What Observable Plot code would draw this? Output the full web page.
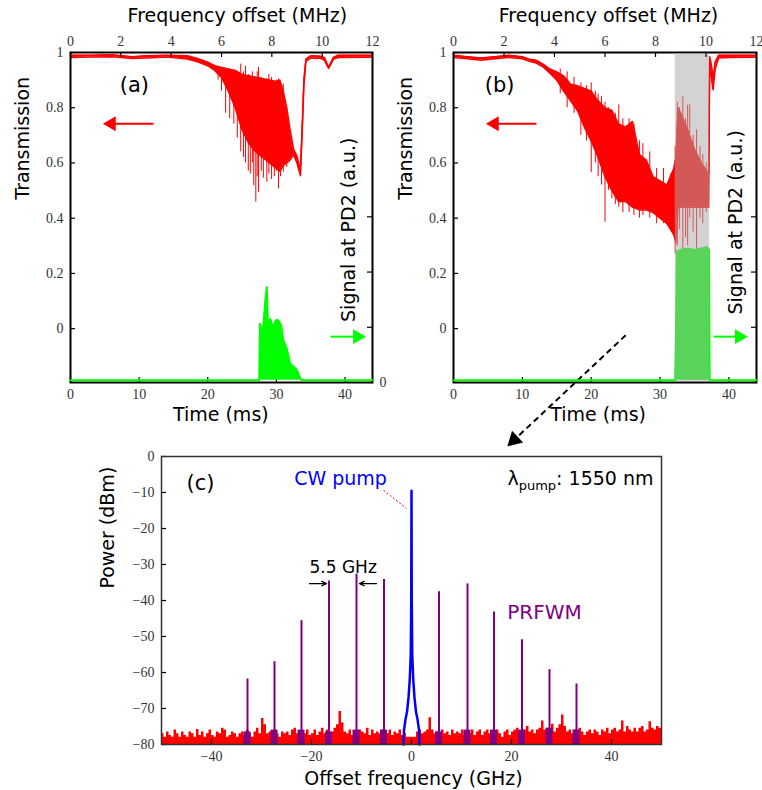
<!DOCTYPE html>
<html><head><meta charset="utf-8">
<script src="https://cdn.jsdelivr.net/npm/d3@7"></script>
<script src="https://cdn.jsdelivr.net/npm/@observablehq/plot@0.6"></script>
<style>
body{margin:0;background:#fff;}
#fig{position:relative;width:762px;height:790px;overflow:hidden;background:#fff;}
</style></head><body><div id="fig"></div>
<script>
// ---------- tick values ----------
const timeTicks = [0, 10, 20, 30, 40];
const freqTicks = [0, 2, 4, 6, 8, 10, 12];
const transTicks = [0, 0.2, 0.4, 0.6, 0.8, 1];
const signalTicks = [0, 0.2, 0.4, 0.6];
const specXTicks = [-40, -20, 0, 20, 40];
const specYTicks = [0, -10, -20, -30, -40, -50, -60, -70, -80];

// ---------- panel (a): transmission envelope (dense trace drawn as min/max band) ----------
const redA_t  = [0, 3, 6, 9, 11, 14, 17, 18.5, 20, 21, 22, 23, 24, 25, 26, 27, 28, 29, 30, 30.5, 31, 31.5, 32, 32.5, 33, 33.5, 33.8, 34, 34.3, 35, 36.5, 37, 37.6, 38.3, 39, 44];
const redA_hi = [0.99, 0.99, 0.992, 0.985, 0.988, 0.99, 0.988, 0.978, 0.965, 0.952, 0.946, 0.94, 0.935, 0.92, 0.915, 0.91, 0.905, 0.90, 0.895, 0.90, 0.86, 0.80, 0.72, 0.65, 0.625, 0.575, 0.76, 0.90, 0.976, 0.988, 0.986, 0.982, 0.946, 0.982, 0.99, 0.99];
const redA_lo = [0.982, 0.984, 0.985, 0.978, 0.98, 0.984, 0.976, 0.966, 0.952, 0.935, 0.91, 0.86, 0.80, 0.72, 0.67, 0.64, 0.62, 0.60, 0.58, 0.57, 0.59, 0.60, 0.61, 0.63, 0.60, 0.554, 0.74, 0.88, 0.968, 0.98, 0.978, 0.972, 0.942, 0.975, 0.982, 0.983];
const spikeA_t  = [21.5, 22.0, 22.6, 23.2, 23.8, 24.3, 24.8, 25.2, 25.5, 25.9, 26.2, 26.5, 26.7, 27.0, 27.2, 27.4, 27.8, 28.1, 28.6, 28.9, 29.3, 29.7, 30.0, 30.3, 30.6, 31.0, 31.5];
const spikeA_lo = [0.90, 0.86, 0.78, 0.76, 0.74, 0.69, 0.64, 0.62, 0.60, 0.57, 0.56, 0.60, 0.518, 0.458, 0.55, 0.494, 0.57, 0.545, 0.53, 0.56, 0.54, 0.55, 0.57, 0.506, 0.55, 0.566, 0.584];
const spikeA_hi = [0.95, 0.945, 0.94, 0.935, 0.935, 0.93, 0.958, 0.93, 0.95, 0.92, 0.915, 0.93, 0.91, 0.91, 0.93, 0.946, 0.91, 0.90, 0.905, 0.92, 0.91, 0.89, 0.90, 0.904, 0.89, 0.886, 0.80];
// signal at PD2 (a.u.), upper envelope
const greenA_t  = [0, 27.5, 27.6, 28.0, 28.4, 28.6, 28.8, 29.1, 29.5, 29.9, 30.3, 30.7, 31.0, 31.5, 32.0, 32.5, 33.0, 33.5, 33.7, 44];
const greenA_hi = [0.008, 0.008, 0.213, 0.177, 0.30, 0.346, 0.18, 0.23, 0.20, 0.225, 0.225, 0.207, 0.153, 0.123, 0.069, 0.057, 0.045, 0.014, 0.008, 0.008];

// ---------- panel (b) ----------
const redB_t  = [0, 2, 4, 6, 8, 10, 11, 12, 13, 14, 15, 16, 17, 18, 19, 20, 21, 22, 23, 24, 25, 26, 27, 28, 29, 30, 31, 32, 32.3, 32.6, 33, 34, 35, 36, 37.05, 37.2, 37.5, 37.7, 38.0, 38.5, 40, 44];
const redB_hi = [0.99, 0.985, 0.98, 0.985, 0.99, 0.985, 0.976, 0.972, 0.958, 0.94, 0.93, 0.915, 0.885, 0.88, 0.87, 0.86, 0.825, 0.80, 0.79, 0.74, 0.73, 0.75, 0.63, 0.61, 0.55, 0.535, 0.52, 0.58, 0.62, 0.80, 0.78, 0.72, 0.65, 0.60, 0.56, 0.985, 0.95, 0.90, 0.965, 0.99, 0.99, 0.99];
const redB_lo = [0.982, 0.977, 0.972, 0.977, 0.982, 0.977, 0.968, 0.962, 0.948, 0.925, 0.90, 0.86, 0.825, 0.79, 0.73, 0.68, 0.62, 0.55, 0.50, 0.46, 0.46, 0.44, 0.43, 0.43, 0.42, 0.40, 0.38, 0.34, 0.31, 0.44, 0.44, 0.44, 0.44, 0.44, 0.44, 0.96, 0.90, 0.865, 0.94, 0.98, 0.982, 0.983];
const spikeB_t  = [15.5, 16.5, 17.5, 18.5, 19.3, 20.0, 20.6, 21.0, 21.5, 22.0, 22.5, 23.0, 23.5, 24.0, 24.6, 25.5, 26.2, 27.0, 27.5, 28.5, 29.5, 30.5, 31.5, 32.2, 32.5, 32.8, 33.3, 33.7, 34.0, 34.3, 34.8, 35.3, 35.8, 36.2, 36.7];
const spikeB_lo = [0.85, 0.80, 0.78, 0.70, 0.68, 0.565, 0.60, 0.55, 0.52, 0.385, 0.50, 0.47, 0.45, 0.44, 0.42, 0.42, 0.41, 0.40, 0.41, 0.40, 0.38, 0.38, 0.36, 0.27, 0.30, 0.36, 0.28, 0.33, 0.30, 0.40, 0.35, 0.27, 0.40, 0.38, 0.42];
const spikeB_hi = [0.94, 0.93, 0.91, 0.89, 0.88, 0.89, 0.86, 0.85, 0.84, 0.82, 0.80, 0.79, 0.78, 0.81, 0.76, 0.76, 0.74, 0.68, 0.67, 0.64, 0.58, 0.58, 0.56, 0.66, 0.82, 0.80, 0.84, 0.76, 0.81, 0.81, 0.70, 0.72, 0.66, 0.63, 0.60];
const greenB_t  = [0, 32.2, 32.3, 32.45, 33, 34, 35, 36, 36.8, 37.1, 37.2, 44];
const greenB_hi = [0.008, 0.008, 0.155, 0.475, 0.48, 0.485, 0.48, 0.485, 0.49, 0.48, 0.008, 0.008];
const bandB = [32.2, 37.2];
const greenBase = 0.008;

// ---------- panel (c): optical spectrum ----------
const noiseStart = -50, noiseStep = 0.5;
const noiseP = [
 -77,-78,-76.5,-77.5,-78,-76,-77,-78,-76.5,-77.5,
 -78,-76.5,-77,-78,-75.8,-77.5,-76.5,-78,-77,-76,
 -77.5,-78,-76.5,-77,-75.5,-76,-78,-77.5,-76.5,-77,
 -78,-77,-76.5,-77.5,-76,-77,-78,-76.5,-75.5,-77,
 -72.8,-74.5,-77,-76.5,-77.5,-76,-77,-78,-76.5,-77,
 -76.5,-77.5,-76,-75.5,-77,-78,-76.5,-77,-76,-77.5,
 -77,-76,-77.5,-76.5,-75.5,-77,-76,-77.5,-76.5,-75.5,
 -74.5,-70.8,-74,-76.5,-77,-76,-77.5,-76.5,-77,-76,
 -76.5,-77,-75.5,-77.5,-76,-77,-76.5,-77,-76,-77.5,
 -77,-76,-77.5,-76.5,-77,-76,-77.5,-77,-78,-78,
 -78,-78,-76.5,-76,-77,-76.5,-76,-72.6,-76,-77,
 -76.5,-77.5,-76,-77,-76.5,-77.5,-76,-77,-76.5,-77,
 -76,-77.5,-76.5,-77,-76,-77.5,-76.5,-76,-77.5,-76.5,
 -76,-77,-77.5,-76.5,-76,-77,-78,-76.5,-76,-77.5,
 -76.5,-76,-75.5,-76.5,-77.5,-76,-75,-76.5,-76,-77,
 -76,-75.5,-73.5,-76,-75.5,-76.5,-74.4,-76.5,-75.5,-74.5,
 -71.8,-75,-76.5,-76,-77,-76,-76.5,-75.5,-76.5,-77.5,
 -76.5,-76,-77,-76,-76.5,-77.5,-76,-76.5,-75.5,-77,
 -76,-75.5,-76.5,-76,-73.5,-76.5,-75,-76,-76.5,-75.5,
 -76.5,-75.5,-75,-76.5,-76,-73.7,-75.5,-76,-75,-75.5,
 -76];
const peakF = [-32.8, -27.4, -22.0, -16.5, -11.0, -5.5, 5.5, 11.2, 16.5, 22.1, 27.6, 33.0];
const peakP = [-61.8, -57.0, -45.6, -34.6, -32.7, -34.2, -37.6, -35.4, -43.2, -50.9, -59.2, -63.2];
const peakBase = [-76.5, -76, -76, -76.5, -76, -76, -76.5, -76, -76, -76, -75.5, -76];
const pumpF = [-1.6, -1.5, -1.2, -0.9, -0.6, -0.35, -0.15, -0.05, 0, 0.05, 0.15, 0.35, 0.6, 0.9, 1.2, 1.5, 1.6];
const pumpP = [-80, -76, -73, -71, -67, -62, -55, -40, -9.5, -40, -55, -62, -67, -71, -73, -76, -80];

// ---------- build tables ----------
const zip3 = (t, hi, lo) => t.map((v, i) => ({t: v, hi: hi[i], lo: lo[i]}));
const redA = zip3(redA_t, redA_hi, redA_lo);
const redB = zip3(redB_t, redB_hi, redB_lo);
const spikesA = zip3(spikeA_t, spikeA_hi, spikeA_lo);
const spikesB = zip3(spikeB_t, spikeB_hi, spikeB_lo);
const greenA = greenA_t.map((t, i) => ({t, hi: greenA_hi[i]}));
const greenB = greenB_t.map((t, i) => ({t, hi: greenB_hi[i]}));
const noise = noiseP.map((p, i) => ({f: noiseStart + i * noiseStep, p}));
const peaks = peakF.map((f, i) => ({f, p: peakP[i], base: peakBase[i]}));
const pump = pumpF.map((f, i) => ({f, p: pumpP[i]}));

// ---------- styles ----------
const SANS = "'DejaVu Sans', sans-serif";
const SERIF = "'Liberation Serif', 'DejaVu Serif', serif";
const RED = "#ff0000", GREEN = "#00ff00", PURPLE = "#800080", BLUE = "#0000ff";
const TICK = 5;
const tickStyle = {fontFamily: SERIF, fontSize: 14, fill: "#333", tickSize: 0, tickPadding: 7, label: null};
const baseStyle = {background: "transparent", overflow: "visible", fontFamily: SANS};
const fig = document.getElementById("fig");
function place(svg, left, top) {
  svg.style.position = "absolute";
  svg.style.left = left + "px";
  svg.style.top = top + "px";
  svg.style.maxWidth = "none";
  fig.appendChild(svg);
}

function topPanel(cfg) {
  const H = 420, ML = 70, MT = 52, MB = 38;
  const dims = {width: cfg.width, height: H, marginLeft: ML, marginRight: cfg.marginRight, marginTop: MT, marginBottom: MB};
  const fw = cfg.width - ML - cfg.marginRight, fh = H - MT - MB;
  // transmission (left axis)
  const main = Plot.plot({
    ...dims, style: baseStyle,
    x: {domain: [0, 44]}, y: {domain: [-0.195, 1]},
    marks: [
      Plot.area(cfg.red, {x1: "t", y1: "lo", y2: "hi", fill: RED}),
      Plot.line(cfg.red, {x: "t", y: "hi", stroke: RED, strokeWidth: 1.5}),
      Plot.line(cfg.red, {x: "t", y: "lo", stroke: RED, strokeWidth: 1.5}),
      Plot.ruleX(cfg.spikes, {x: "t", y1: "lo", y2: "hi", stroke: RED, strokeWidth: 1}),
      Plot.axisX({anchor: "bottom", ticks: timeTicks, ...tickStyle}),
      Plot.axisY({anchor: "left", ticks: transTicks, tickFormat: d3.format("~g"), ...tickStyle}),
      Plot.ruleX(timeTicks, {x: d => d, insetTop: fh - TICK, stroke: "black", strokeWidth: 1.2}),
      Plot.ruleY(transTicks, {y: d => d, insetRight: fw - TICK, stroke: "black", strokeWidth: 1.2}),
      Plot.frame({stroke: "black", strokeWidth: 2}),
      Plot.text([cfg.tag], {x: "t", y: "v", text: "s", fontSize: 21, fill: "black"}),
      Plot.text([{v: 0.467, s: "Transmission"}], {y: "v", text: "s", frameAnchor: "left", lineAnchor: "middle", dx: -48, rotate: -90, fontSize: 19, fill: "black"}),
      Plot.text([cfg.timeLabel], {x: "t", text: "s", frameAnchor: "bottom", lineAnchor: "middle", dy: 32, fontSize: 19, fill: "black"}),
      Plot.link([cfg.redArrow], {x1: "x1", x2: "x2", y1: "y", y2: "y", stroke: RED, strokeWidth: 2}),
      Plot.dot([cfg.redArrow], {x: "x2", y: "y", symbol: "triangle", r: 5.5, fill: RED, stroke: "none", rotate: 270}),
      ...(cfg.extra || [])
    ]
  });
  // signal at PD2 (right axis)
  const sig = Plot.plot({
    ...dims, style: baseStyle,
    x: {domain: [0, 44], axis: null}, y: {domain: [0, 1.195]},
    marks: [
      Plot.area(cfg.green, {x1: "t", y1: greenBase, y2: "hi", fill: GREEN}),
      Plot.line(cfg.green, {x: "t", y: "hi", stroke: GREEN, strokeWidth: 2}),
      ...(cfg.band ? [Plot.rect([cfg.band], {x1: d => d[0], x2: d => d[1], fill: "#ababab", fillOpacity: 0.52, insetTop: 1, insetBottom: 1})] : []),
      Plot.axisY({anchor: "right", ticks: signalTicks, tickFormat: d => d === 0 ? "0" : "", ...tickStyle}),
      Plot.ruleY(signalTicks, {y: d => d, insetLeft: fw - TICK, stroke: "black", strokeWidth: 1.2}),
      Plot.text([cfg.sigLabel], {x: "t", y: "v", text: "s", rotate: -90, fontSize: 19, fill: "black"}),
      Plot.link([cfg.greenArrow], {x1: "x1", x2: "x2", y1: "y", y2: "y", stroke: GREEN, strokeWidth: 2}),
      Plot.dot([cfg.greenArrow], {x: "x2", y: "y", symbol: "triangle", r: 5.5, fill: GREEN, stroke: "none", rotate: 90})
    ]
  });
  // frequency offset (top axis)
  const top = Plot.plot({
    ...dims, style: baseStyle,
    x: {domain: [0, 12]},
    marks: [
      Plot.axisX({anchor: "top", ticks: freqTicks, ...tickStyle}),
      Plot.ruleX(freqTicks, {x: d => d, insetBottom: fh - TICK, stroke: "black", strokeWidth: 1.2}),
      Plot.text([cfg.freqLabel], {x: "f", text: "s", frameAnchor: "top", lineAnchor: "middle", dy: -37, fontSize: 19, fill: "black"})
    ]
  });
  place(main, cfg.left, 0);
  place(sig, cfg.left, 0);
  place(top, cfg.left, 0);
}

topPanel({
  left: 0, width: 390, marginRight: 18,
  red: redA, spikes: spikesA, green: greenA,
  tag: {t: 9.3, v: 0.883, s: "(a)"},
  timeLabel: {t: 21.9, s: "Time (ms)"},
  freqLabel: {f: 6.63, s: "Frequency offset (MHz)"},
  sigLabel: {t: 40.6, v: 0.553, s: "Signal at PD2 (a.u.)"},
  redArrow: {x1: 12.1, x2: 5.97, y: 0.742},
  greenArrow: {x1: 37.9, x2: 41.8, y: 0.166}
});

topPanel({
  left: 383, width: 379, marginRight: 6,
  red: redB, spikes: spikesB, green: greenB, band: bandB,
  tag: {t: 6.7, v: 0.883, s: "(b)"},
  timeLabel: {t: 21.0, s: "Time (ms)"},
  freqLabel: {f: 6.14, s: "Frequency offset (MHz)"},
  sigLabel: {t: 41.0, v: 0.58, s: "Signal at PD2 (a.u.)"},
  redArrow: {x1: 12.05, x2: 5.95, y: 0.742},
  greenArrow: {x1: 37.8, x2: 41.5, y: 0.166},
  extra: [
    Plot.link([{x1: 25.0, y1: -0.024, x2: 8.81, y2: -0.403}], {x1: "x1", y1: "y1", x2: "x2", y2: "y2", stroke: "black", strokeWidth: 2, strokeDasharray: "6,4"}),
    Plot.dot([{x: 8.81, y: -0.403}], {x: "x", y: "y", symbol: "triangle", r: 6, fill: "black", stroke: "none", rotate: 226.7})
  ]
});

// ---------- panel (c) ----------
const CW = 580, CH = 350, CML = 71, CMR = 9, CMT = 16, CMB = 46;
const cfw = CW - CML - CMR, cfh = CH - CMT - CMB;
const spec = Plot.plot({
  width: CW, height: CH, marginLeft: CML, marginRight: CMR, marginTop: CMT, marginBottom: CMB,
  style: baseStyle,
  x: {domain: [-50, 50]}, y: {domain: [-80, 0]},
  marks: [
    Plot.area(noise, {x1: "f", y1: -80, y2: "p", curve: "step-after", fill: RED}),
    Plot.rect(peaks, {x1: d => d.f - 0.7, x2: d => d.f + 0.7, y1: -80, y2: "base", fill: PURPLE}),
    Plot.ruleX(peaks, {x: "f", y1: -80, y2: "p", stroke: PURPLE, strokeWidth: 2}),
    Plot.line(pump, {x: "f", y: "p", stroke: BLUE, strokeWidth: 2.5}),
    Plot.axisX({anchor: "bottom", ticks: specXTicks, ...tickStyle}),
    Plot.axisY({anchor: "left", ticks: specYTicks, ...tickStyle}),
    Plot.ruleX(specXTicks, {x: d => d, insetTop: cfh - TICK, stroke: "black", strokeWidth: 1.2}),
    Plot.ruleY(specYTicks, {y: d => d, insetRight: cfw - TICK, stroke: "black", strokeWidth: 1.2}),
    Plot.frame({stroke: "#333", strokeWidth: 1.5}),
    Plot.text([{f: -42.2, p: -7.5, s: "(c)"}], {x: "f", y: "p", text: "s", fontSize: 21, fill: "black"}),
    Plot.text([{f: -14.2, p: -6.1, s: "CW pump"}], {x: "f", y: "p", text: "s", fontSize: 19, fill: BLUE}),
    Plot.text([{f: 48.4, p: -6.1, s: "λpump: 1550 nm"}], {x: "f", y: "p", text: "s", textAnchor: "end", fontSize: 19, fill: "black"}),
    Plot.text([{f: -20.4, p: -30.8, s: "5.5 GHz"}], {x: "f", y: "p", text: "s", textAnchor: "start", fontSize: 17, fill: "black"}),
    Plot.text([{f: 26.6, p: -43.3, s: "PRFWM"}], {x: "f", y: "p", text: "s", fontSize: 20, fill: PURPLE}),
    Plot.arrow([{x1: -20.4, x2: -17.0, y: -35.3}, {x1: -7.0, x2: -10.4, y: -35.3}], {x1: "x1", x2: "x2", y1: "y", y2: "y", stroke: "black", strokeWidth: 1.3, headLength: 6, headAngle: 50}),
    Plot.link([{x1: -5.6, y1: -9.4, x2: -1.0, y2: -14.4}], {x1: "x1", y1: "y1", x2: "x2", y2: "y2", stroke: RED, strokeWidth: 1, strokeDasharray: "2,2"}),
    Plot.text([{s: "Power (dBm)"}], {y: () => -36.7, text: "s", frameAnchor: "left", lineAnchor: "middle", dx: -54, rotate: -90, fontSize: 19, fill: "black"}),
    Plot.text([{s: "Offset frequency (GHz)"}], {x: () => 0.4, text: "s", frameAnchor: "bottom", lineAnchor: "middle", dy: 34, fontSize: 19, fill: "black"})
  ]
});
place(spec, 90, 440);

// subscript for λ_pump
spec.querySelectorAll("text").forEach(el => {
  if (el.textContent === "λpump: 1550 nm") {
    el.innerHTML = 'λ<tspan dy="5" font-size="13">pump</tspan><tspan dy="-5">: 1550 nm</tspan>';
  }
});
</script></body></html>
